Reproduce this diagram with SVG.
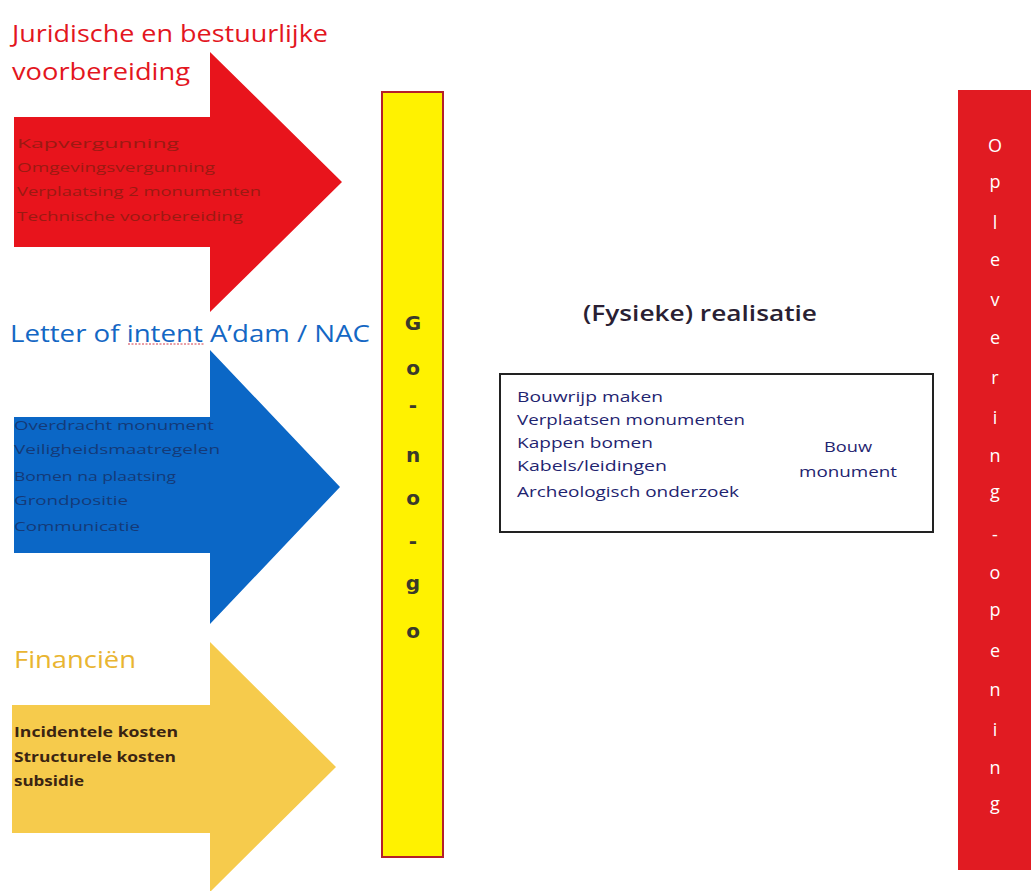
<svg xmlns="http://www.w3.org/2000/svg" width="1031" height="891" viewBox="0 0 1031 891">
<style>
.title{font-family:"Open Sans","Liberation Sans",sans-serif;font-size:23px}
.inner{font-family:"Open Sans","Liberation Sans",sans-serif;font-size:13.5px}
.box{font-family:"Open Sans","Liberation Sans",sans-serif;font-size:14.5px;fill:#1f2470}
.gng{font-family:"DejaVu Sans",sans-serif;font-weight:bold;font-size:20px;fill:#3a3a2a;text-anchor:middle}
.opl{font-family:"Open Sans","Liberation Sans",sans-serif;font-size:18px;fill:#ffffff;text-anchor:middle}
</style>
<rect width="1031" height="891" fill="#ffffff"/>

<g id="juridisch">
<text class="title" x="12" y="42" fill="#e3161e" textLength="316" lengthAdjust="spacingAndGlyphs">Juridische en bestuurlijke</text>
<text class="title" x="12" y="80" fill="#e3161e" textLength="178" lengthAdjust="spacingAndGlyphs">voorbereiding</text>
<polygon points="14,117 210,117 210,52 342,182 210,312 210,247 14,247" fill="#e8141c"/>
<g class="inner" fill="#9a1a12">
<text x="17" y="148" textLength="162" lengthAdjust="spacingAndGlyphs">Kapvergunning</text>
<text x="17" y="172" textLength="198" lengthAdjust="spacingAndGlyphs">Omgevingsvergunning</text>
<text x="17" y="196" textLength="244" lengthAdjust="spacingAndGlyphs">Verplaatsing 2 monumenten</text>
<text x="17" y="221" textLength="226" lengthAdjust="spacingAndGlyphs">Technische voorbereiding</text>
</g>
</g>

<g id="letter-of-intent">
<text class="title" x="10" y="342" fill="#1467c4" textLength="360" lengthAdjust="spacingAndGlyphs">Letter of intent A’dam / NAC</text>
<line x1="128" y1="344" x2="204" y2="344" stroke="#d23a4a" stroke-width="1" stroke-dasharray="2,1.5"/>
<polygon points="14,417 210,417 210,350 340,487 210,624 210,553 14,553" fill="#0b67c6"/>
<g class="inner" fill="#143a78">
<text x="14" y="430" textLength="200" lengthAdjust="spacingAndGlyphs">Overdracht monument</text>
<text x="14" y="454" textLength="206" lengthAdjust="spacingAndGlyphs">Veiligheidsmaatregelen</text>
<text x="14" y="481" textLength="162" lengthAdjust="spacingAndGlyphs">Bomen na plaatsing</text>
<text x="14" y="505" textLength="114" lengthAdjust="spacingAndGlyphs">Grondpositie</text>
<text x="14" y="531" textLength="126" lengthAdjust="spacingAndGlyphs">Communicatie</text>
</g>
</g>

<g id="financien">
<text class="title" x="14" y="668" fill="#e9b531" font-size="20" textLength="122" lengthAdjust="spacingAndGlyphs">Financiën</text>
<polygon points="12,705 210,705 210,642 336,767 210,892 210,833 12,833" fill="#f6cb4c"/>
<g class="inner" fill="#3a2412" font-weight="bold">
<text x="14" y="737" textLength="164" lengthAdjust="spacingAndGlyphs">Incidentele kosten</text>
<text x="14" y="762" textLength="162" lengthAdjust="spacingAndGlyphs">Structurele kosten</text>
<text x="14" y="786" textLength="70" lengthAdjust="spacingAndGlyphs">subsidie</text>
</g>
</g>

<g id="go-no-go">
<rect x="382" y="92" width="61" height="765" fill="#fff200" stroke="#b5202a" stroke-width="2"/>
<text class="gng" x="413" y="330">G</text>
<text class="gng" x="413" y="375">o</text>
<text class="gng" x="413" y="412">-</text>
<text class="gng" x="413" y="462">n</text>
<text class="gng" x="413" y="505">o</text>
<text class="gng" x="413" y="548">-</text>
<text class="gng" x="413" y="590">g</text>
<text class="gng" x="413" y="638">o</text>
</g>

<g id="realisatie">
<text x="700" y="321" font-family="'Open Sans','Liberation Sans',sans-serif" font-size="21" font-weight="600" fill="#2a1f33" text-anchor="middle" textLength="234" lengthAdjust="spacingAndGlyphs">(Fysieke) realisatie</text>
<rect x="500" y="374" width="433" height="158" fill="#ffffff" stroke="#222222" stroke-width="2"/>
<text class="box" x="517" y="402" textLength="146" lengthAdjust="spacingAndGlyphs">Bouwrijp maken</text>
<text class="box" x="517" y="425" textLength="228" lengthAdjust="spacingAndGlyphs">Verplaatsen monumenten</text>
<text class="box" x="517" y="448" textLength="136" lengthAdjust="spacingAndGlyphs">Kappen bomen</text>
<text class="box" x="517" y="471" textLength="150" lengthAdjust="spacingAndGlyphs">Kabels/leidingen</text>
<text class="box" x="517" y="497" textLength="222" lengthAdjust="spacingAndGlyphs">Archeologisch onderzoek</text>
<text class="box" x="848" y="452" text-anchor="middle" textLength="48" lengthAdjust="spacingAndGlyphs">Bouw</text>
<text class="box" x="848" y="477" text-anchor="middle" textLength="98" lengthAdjust="spacingAndGlyphs">monument</text>
</g>

<g id="oplevering">
<rect x="958" y="90" width="73" height="780" fill="#e11b22"/>
<text class="opl" x="995" y="152">O</text>
<text class="opl" x="995" y="188">p</text>
<text class="opl" x="995" y="229">l</text>
<text class="opl" x="995" y="266">e</text>
<text class="opl" x="995" y="306">v</text>
<text class="opl" x="995" y="344">e</text>
<text class="opl" x="995" y="384">r</text>
<text class="opl" x="995" y="424">i</text>
<text class="opl" x="995" y="462">n</text>
<text class="opl" x="995" y="498">g</text>
<text class="opl" x="995" y="541">-</text>
<text class="opl" x="995" y="579">o</text>
<text class="opl" x="995" y="616">p</text>
<text class="opl" x="995" y="657">e</text>
<text class="opl" x="995" y="696">n</text>
<text class="opl" x="995" y="736">i</text>
<text class="opl" x="995" y="774">n</text>
<text class="opl" x="995" y="810">g</text>
</g>

<g id="connectors"></g>
</svg>
